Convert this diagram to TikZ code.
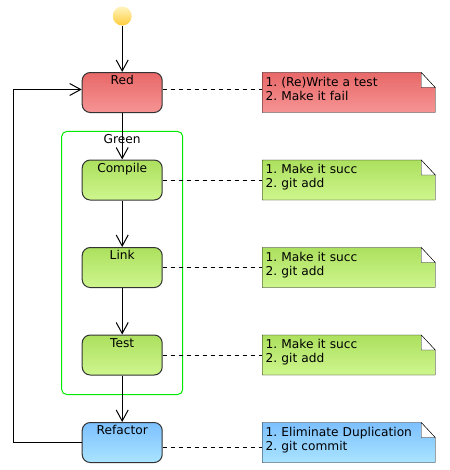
\documentclass[tikz,border=0pt]{standalone}
\usepackage{fontspec}
\setmainfont{DejaVu Sans}
\frenchspacing
\usetikzlibrary{matrix,arrows.meta,fit,backgrounds}

\definecolor{redtop}{RGB}{232,104,104}
\definecolor{redbot}{RGB}{246,148,148}
\definecolor{greentop}{RGB}{172,224,94}
\definecolor{greenbot}{RGB}{206,246,142}
\definecolor{bluetop}{RGB}{124,192,255}
\definecolor{bluebot}{RGB}{170,228,255}
\definecolor{dottop}{RGB}{255,244,190}
\definecolor{dotbot}{RGB}{255,204,60}
\definecolor{groupline}{RGB}{0,235,0}
\definecolor{boxline}{RGB}{51,51,51}

\tikzset{
  state/.style={draw=boxline, rounded corners=8bp, minimum width=80bp,
    inner xsep=2bp, inner ysep=3bp, text height=9bp, text depth=25bp},
  redfill/.style={top color=redtop, bottom color=redbot},
  greenfill/.style={top color=greentop, bottom color=greenbot},
  bluefill/.style={top color=bluetop, bottom color=bluebot},
  note/.style={text width=166bp, align=left, inner xsep=3bp, inner ysep=3bp,
    text height=10bp, text depth=23bp},
  startdot/.style={circle, minimum size=19bp, inner sep=0pt,
    top color=dottop, bottom color=dotbot},
  group/.style={draw=groupline, rounded corners=5bp, inner sep=0pt},
}

\begin{document}
\begin{tikzpicture}[x=1bp, y=-1bp, line width=1bp,
  font=\fontsize{12.2bp}{14bp}\selectfont,
  >={Straight Barb[length=11bp,width=12bp]}]
  \useasboundingbox (0,0) rectangle (450,470);
  \matrix (m) [matrix of nodes, row sep=46.5bp, column sep=100bp,
    matrix anchor=north west, inner sep=0pt, nodes={anchor=center}] at (81.2,6)
  {
|[startdot]| & \\
|[state,redfill]| Red & |[note]| {1. (Re)Write a test\\2. Make it fail} \\
|[state,greenfill]| Compile & |[note]| {1. Make it succ\\2. git add} \\
|[state,greenfill]| Link & |[note]| {1. Make it succ\\2. git add} \\
|[state,greenfill]| Test & |[note]| {1. Make it succ\\2. git add} \\
|[state,bluefill]| Refactor & |[note]| {1. Eliminate Duplication\\2. git commit} \\
  };
  \node (green) [group, fit={([xshift=-20bp,yshift=28bp]m-3-1.north west)
      ([xshift=20bp,yshift=-19bp]m-5-1.south east)},
    label={[anchor=north,inner sep=3bp]north:Green}] {};
  \path[->]
  (m-1-1) edge (m-2-1)
  (m-2-1) edge (m-3-1)
  (m-3-1) edge (m-4-1)
  (m-4-1) edge (m-5-1)
  (m-5-1) edge (m-6-1);
  \draw[->] (m-6-1.west) -- ++(-68,0) |- ([yshift=3bp]m-2-1.west);
  \foreach \r/\s in {2/3bp, 3/0bp, 4/0bp, 5/0bp, 6/-5bp}
    \draw[dash pattern=on 4bp off 4bp] ([yshift=\s]m-\r-1.east) -- ([yshift=\s]m-\r-2.west);
  % folded notes behind the texts
  \begin{scope}[on background layer]
  \foreach \r/\ct/\cb in {2/redtop/redbot, 3/greentop/greenbot, 4/greentop/greenbot,
      5/greentop/greenbot, 6/bluetop/bluebot}
  {
    \shade[top color=\ct, bottom color=\cb, draw] (m-\r-2.south west) -- (m-\r-2.north west)
      -- ([xshift=-14bp]m-\r-2.north east) -- ([yshift=-15bp]m-\r-2.north east)
      -- (m-\r-2.south east) -- cycle;
    \filldraw[fill=white] ([xshift=-14bp]m-\r-2.north east) |- ([yshift=-15bp]m-\r-2.north east) -- cycle;
  }
  \end{scope}
\end{tikzpicture}
\end{document}
